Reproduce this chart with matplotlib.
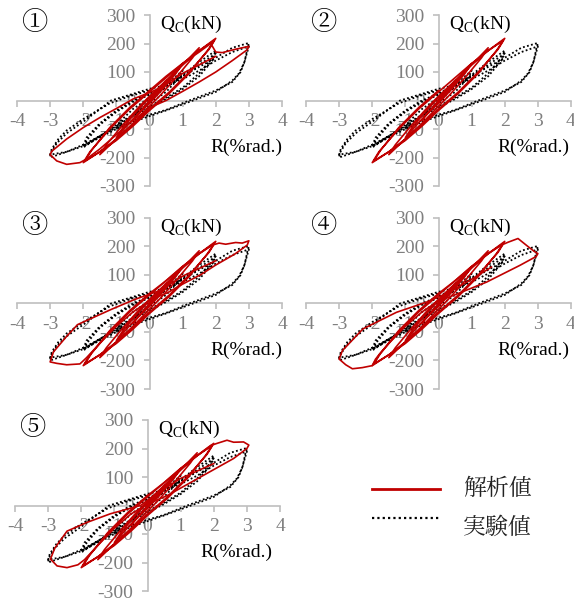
import numpy as np
import matplotlib.pyplot as plt
from matplotlib.lines import Line2D

SERIF = 'Liberation Serif'
MINCHO = 'Noto Serif CJK JP'

plt.rcParams['font.family'] = [SERIF, MINCHO, 'DejaVu Sans']
plt.rcParams['axes.unicode_minus'] = False
plt.rcParams['mathtext.fontset'] = 'custom'
plt.rcParams['mathtext.rm'] = SERIF

# --- Test result (same specimen in every panel): R (%rad.), Qc (kN) ---
exp_loop = [
    (0, 0), (0.25, 30), (0.5, 60), (0.4, 40), (0.1, 5), (0, -5), (-0.25, -30), (-0.5, -55),
    (-0.4, -38), (-0.1, -5), (0, 5),
    (0.5, 55), (1.0, 105), (0.9, 80), (0.5, 30), (0, -10), (-0.5, -50), (-1.0, -100),
    (-0.9, -75), (-0.5, -30), (0, 10),
    (0.5, 50), (1.0, 90), (1.5, 135), (2.0, 175), (1.9, 150), (1.5, 95), (1.0, 45), (0.5, 10),
    (0, -20), (-0.5, -50), (-1.0, -85), (-1.5, -125), (-2.0, -165), (-1.9, -140), (-1.5, -85),
    (-1.0, -40), (-0.5, -5), (0, 20),
    (0.5, 45), (1.0, 85), (1.5, 125), (2.0, 165), (1.9, 140), (1.5, 85), (1.0, 40), (0.5, 5),
    (0, -25), (-0.5, -55), (-1.0, -90), (-1.5, -125), (-2.0, -160), (-1.9, -130), (-1.5, -80),
    (-1.0, -35), (-0.5, 0), (0, 25),
    (0.5, 55), (1.0, 85), (1.5, 118), (2.0, 150), (2.5, 185), (3.0, 202), (2.95, 180),
    (2.88, 140), (2.75, 100), (2.5, 65), (2.0, 35), (1.2, 0), (0.5, -33), (0, -50),
    (-0.5, -70), (-1.0, -95), (-1.5, -125), (-2.0, -155), (-2.5, -180), (-3.0, -200),
    (-2.97, -182), (-2.8, -150), (-2.5, -115), (-1.96, -71), (-1.16, 0), (-0.65, 18),
    (0, 41), (0.55, 55),
    (1.0, 75), (1.5, 105), (2.0, 140), (2.5, 170), (3.0, 190), (2.95, 170), (2.85, 130),
    (2.7, 95), (2.5, 70), (2.0, 30), (1.2, -5), (0.5, -35), (0, -55), (-0.5, -75),
    (-1.0, -100), (-1.5, -130), (-2.0, -160), (-2.5, -180), (-3.0, -190), (-2.95, -170),
    (-2.75, -135), (-2.5, -105), (-2.0, -65), (-1.2, -10), (-0.6, 15), (0, 35),
]

# --- Analysis: cycles up to 2 %rad. (common to all cases) ---
red_small = [
    (0, 0), (0.25, 35), (0.5, 70), (0.35, 45), (0, 0), (-0.25, -35), (-0.5, -70),
    (-0.35, -45), (0, -5),
    (0.5, 60), (1.0, 130), (0.8, 95), (0.4, 40), (0, -10), (-0.5, -65), (-1.0, -130),
    (-0.8, -95), (-0.4, -40), (0, 10),
    (0.5, 65), (1.0, 125), (1.5, 185), (1.3, 150), (0.8, 80), (0.3, 15), (0, -20),
    (-0.5, -80), (-1.0, -135), (-1.5, -190), (-1.3, -155), (-0.8, -85), (-0.3, -20), (0, 15),
    (0.5, 70), (1.0, 125), (1.5, 175), (2.0, 218), (1.8, 180), (1.2, 100), (0.6, 30),
    (0, -30), (-0.5, -85), (-1.0, -135), (-1.5, -180), (-2.0, -218), (-1.8, -180),
    (-1.2, -100), (-0.6, -30), (0, 30),
    (0.5, 80), (1.0, 130), (1.5, 175), (1.95, 210), (1.75, 175), (1.2, 95), (0.6, 25),
    (0, -35), (-0.5, -90), (-1.0, -140), (-1.5, -180), (-1.95, -212), (-1.75, -175),
    (-1.2, -95), (-0.6, -25), (0, 35),
]

# --- Analysis: 3 %rad. cycle for each case ---
red_big_1 = [
    (0, 35), (0.5, 85), (1.0, 130), (1.5, 170), (1.85, 200), (2.0, 170), (2.2, 168),
    (2.6, 180), (3.0, 190), (2.95, 178), (2.5, 140), (2.0, 100), (1.5, 65), (1.0, 32),
    (0.5, 0), (0, -25), (-0.5, -70), (-1.0, -120), (-1.5, -170), (-1.9, -205), (-2.1, -218),
    (-2.5, -224), (-2.8, -212), (-3.0, -190), (-2.95, -178), (-2.5, -135), (-2.0, -95),
    (-1.5, -60), (-1.0, -28), (-0.5, 5), (0, 28), (0.3, 42), (1.0, 95), (2.0, 155),
]
red_big_3 = [
    (0, 35), (0.5, 80), (1.0, 130), (1.5, 175), (1.9, 205), (2.1, 212), (2.3, 208),
    (2.6, 214), (2.8, 212), (3.0, 220), (2.95, 205), (2.57, 173), (2.0, 135), (1.56, 102),
    (1.0, 68), (0.55, 38), (0.05, 14), (-0.5, -30), (-1.0, -80), (-1.5, -140), (-1.9, -190),
    (-2.1, -212), (-2.5, -215), (-2.8, -210), (-3.0, -205), (-2.9, -170), (-2.5, -115),
    (-2.17, -74), (-1.16, -21), (-0.45, 14), (0.3, 45), (1.0, 96), (2.0, 150),
]
red_big_4 = [
    (0, 35), (0.5, 80), (1.0, 130), (1.5, 175), (1.9, 205), (2.1, 215), (2.4, 228),
    (2.7, 200), (2.9, 182), (3.0, 175), (2.95, 165), (2.46, 134), (1.45, 75), (0.44, 28),
    (-0.06, 5), (-0.5, -30), (-1.0, -80), (-1.5, -140), (-1.9, -195), (-2.0, -218),
    (-2.3, -225), (-2.6, -229), (-2.8, -215), (-3.0, -195), (-2.9, -165), (-2.28, -89),
    (-1.27, -31), (-0.36, 5), (0.3, 38), (1.0, 85), (1.6, 128),
]
red_big_5 = [
    (0, 35), (0.5, 80), (1.0, 130), (1.5, 175), (1.9, 210), (2.1, 218), (2.4, 229),
    (2.6, 222), (2.9, 223), (3.06, 212), (3.0, 200), (2.6, 165), (1.6, 100), (0.6, 35),
    (0, 5), (-0.5, -30), (-1.0, -80), (-1.5, -140), (-1.9, -190), (-2.1, -208),
    (-2.43, -218), (-2.73, -212), (-2.93, -188), (-2.8, -150), (-2.43, -90), (-1.82, -59),
    (-1.12, -29), (-0.21, 0), (0.3, 45), (1.0, 95), (2.0, 147),
]

case_labels = ['①', '②', '③', '④', '⑤']
red_big = [red_big_1, None, red_big_3, red_big_4, red_big_5]
x_ticks = [-4, -3, -2, -1, 0, 1, 2, 3, 4]
y_ticks = [-300, -200, -100, 0, 100, 200, 300]

RED = '#C00000'
GRID = '#BFBFBF'
TICK_TXT = '#7F7F7F'

W, H = 574, 603
fig = plt.figure(figsize=(W / 100, H / 100), dpi=100)

# panel placement in pixels: left edge, top edge, R-label x position
panels = [(17, 15, 4.0), (306, 15, 3.95), (17, 218, 4.0), (306, 218, 3.95), (15, 420, 3.78)]


def draw_panel(k):
    left, top, rlab_x = panels[k]
    ax = fig.add_axes([left / W, 1 - (top + 171) / H, 265 / W, 171 / H])
    ax.set_xlim(-4, 4)
    ax.set_ylim(-300, 300)
    ax.set_facecolor('none')

    for side in ['top', 'right']:
        ax.spines[side].set_visible(False)
    for side in ['left', 'bottom']:
        ax.spines[side].set_position(('data', 0))
        ax.spines[side].set_color(GRID)
        ax.spines[side].set_linewidth(1.2)

    ax.set_xticks(x_ticks)
    ax.set_yticks(y_ticks)
    ax.tick_params(axis='both', direction='out', length=4, width=1.2, color=GRID,
                   labelcolor=TICK_TXT, labelsize=14)
    ax.tick_params(axis='x', pad=5)
    ax.tick_params(axis='y', pad=6)

    er, eq = np.array(exp_loop).T
    ax.plot(er, eq, color='black', lw=1.3, linestyle=(0, (1, 1.3)), zorder=3)

    sr, sq = np.array(red_small).T
    ax.plot(sr, sq, color=RED, lw=1.2, zorder=4)
    if red_big[k] is not None:
        br, bq = np.array(red_big[k]).T
        ax.plot(br, bq, color=RED, lw=1.2, zorder=4)

    ax.text(-3.45, 272, case_labels[k], fontsize=19, ha='center', va='center',
            family=[MINCHO, 'DejaVu Sans'], color='black')
    ax.text(0.33, 268, r'Q$_\mathregular{C}$(kN)', fontsize=14, ha='left', va='center',
            color='black')
    ax.text(rlab_x, -165, 'R(%rad.)', fontsize=14, ha='right', va='center', color='black')


for k in range(5):
    draw_panel(k)

# legend block
fig.add_artist(Line2D([372 / W, 440 / W], [1 - 489 / H] * 2, color=RED, lw=2))
fig.add_artist(Line2D([372 / W, 440 / W], [1 - 518 / H] * 2, color='black', lw=1.6,
                      linestyle=(0, (1, 1.4))))
fig.text(463 / W, 1 - 489 / H, '解析値', fontsize=16.5, ha='left', va='center',
         family=[MINCHO], color='#222222')
fig.text(463 / W, 1 - 528 / H, '実験値', fontsize=16.5, ha='left', va='center',
         family=[MINCHO], color='#222222')

fig.savefig('out.png', dpi=100)
